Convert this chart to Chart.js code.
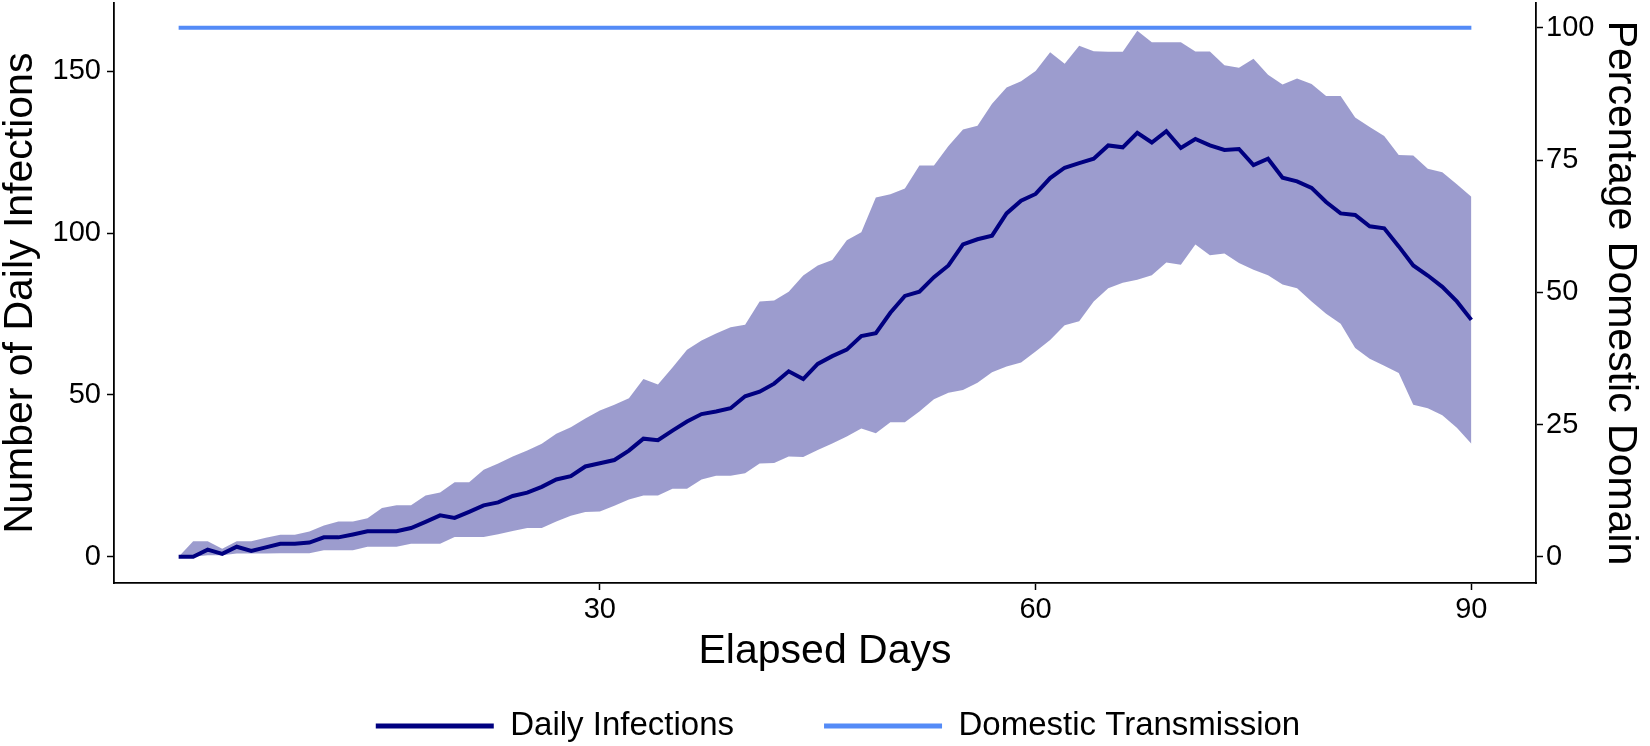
<!DOCTYPE html>
<html>
<head>
<meta charset="utf-8">
<script src="https://cdn.jsdelivr.net/npm/chart.js@4/dist/chart.umd.min.js"></script>
<style>
  html, body { margin: 0; padding: 0; background: #fff; }
</style>
</head>
<body>
<canvas id="infectionsChart" width="1650" height="746"></canvas>
<script>
// elapsed days of the simulation
var days = [1, 2, 3, 4, 5, 6, 7, 8, 9, 10, 11, 12, 13, 14, 15, 16, 17, 18, 19, 20,
    21, 22, 23, 24, 25, 26, 27, 28, 29, 30, 31, 32, 33, 34, 35, 36, 37, 38, 39, 40,
    41, 42, 43, 44, 45, 46, 47, 48, 49, 50, 51, 52, 53, 54, 55, 56, 57, 58, 59, 60,
    61, 62, 63, 64, 65, 66, 67, 68, 69, 70, 71, 72, 73, 74, 75, 76, 77, 78, 79, 80,
    81, 82, 83, 84, 85, 86, 87, 88, 89, 90];

// mean daily infections
var dailyInfections = [0, 0, 2.2, 0.9, 3.1, 1.8, 2.9, 4.0, 4.0, 4.4,
    6.0, 6.0, 6.9, 7.9, 7.9, 7.9, 8.9, 10.8, 12.8, 12.0,
    13.9, 15.9, 16.8, 18.8, 19.8, 21.6, 23.9, 24.9, 27.9, 28.9,
    29.9, 32.8, 36.5, 36.0, 39.0, 41.8, 44.1, 44.9, 45.9, 49.6,
    51.0, 53.5, 57.3, 54.9, 59.6, 62.0, 64.0, 68.2, 69.1, 75.4,
    80.6, 81.9, 86.4, 90.0, 96.5, 98.1, 99.2, 106.1, 110.0, 112.1,
    117.0, 120.2, 121.6, 123.0, 127.1, 126.5, 131.0, 128.0, 131.5, 126.3,
    129.1, 127.1, 125.7, 126.0, 121.0, 123.0, 117.1, 116.0, 114.0, 109.6,
    106.1, 105.6, 102.1, 101.5, 95.9, 90.0, 86.9, 83.4, 78.9, 73.2];

// ribbon bounds
var upperBound = [0, 4.8, 4.8, 2.5, 4.8, 4.8, 5.9, 6.8, 6.8, 7.8,
    9.7, 10.9, 10.9, 11.9, 15.1, 15.9, 15.9, 18.9, 19.9, 23.0,
    23.0, 26.9, 28.8, 31.0, 32.8, 34.9, 38.0, 40.0, 42.7, 45.2,
    47.0, 49.0, 54.9, 53.2, 58.5, 64.0, 66.8, 69.0, 70.9, 71.7,
    78.9, 79.2, 81.9, 86.9, 90.0, 91.7, 97.8, 100.3, 111.0, 112.0,
    113.8, 120.9, 120.9, 126.9, 132.0, 133.2, 140.0, 145.0, 146.9, 150.1,
    155.9, 152.3, 157.9, 156.2, 156.0, 156.0, 162.5, 159.0, 159.0, 159.0,
    156.1, 156.1, 151.9, 151.1, 153.9, 148.9, 145.9, 147.8, 146.1, 142.4,
    142.4, 135.7, 132.8, 130.0, 124.1, 124.0, 119.9, 118.8, 115.1, 111.2];

var lowerBound = [0, 0, 0.5, 0.5, 1.0, 1.0, 1.0, 1.1, 1.1, 1.1,
    2.0, 2.0, 2.0, 3.1, 3.1, 3.1, 4.0, 4.0, 4.0, 6.1,
    6.1, 6.1, 7.0, 8.0, 8.9, 8.9, 10.9, 12.7, 13.8, 14.0,
    15.8, 17.7, 18.9, 18.9, 21.0, 21.0, 23.9, 25.0, 25.0, 25.8,
    28.8, 29.0, 31.0, 30.8, 33.0, 35.0, 37.2, 39.6, 38.2, 41.6,
    41.6, 44.9, 48.7, 50.7, 51.5, 53.8, 57.0, 58.8, 60.0, 63.4,
    67.0, 71.5, 72.8, 78.9, 83.0, 84.7, 85.6, 87.0, 90.9, 90.2,
    96.5, 93.2, 93.7, 90.8, 88.7, 87.0, 84.1, 83.0, 78.9, 75.1,
    72.0, 64.5, 61.2, 59.0, 56.8, 47.0, 45.9, 43.7, 39.9, 34.9];

// percentage domestic domain (right axis)
var domesticTransmission = [100, 100, 100, 100, 100, 100, 100, 100, 100, 100,
    100, 100, 100, 100, 100, 100, 100, 100, 100, 100,
    100, 100, 100, 100, 100, 100, 100, 100, 100, 100,
    100, 100, 100, 100, 100, 100, 100, 100, 100, 100,
    100, 100, 100, 100, 100, 100, 100, 100, 100, 100,
    100, 100, 100, 100, 100, 100, 100, 100, 100, 100,
    100, 100, 100, 100, 100, 100, 100, 100, 100, 100,
    100, 100, 100, 100, 100, 100, 100, 100, 100, 100,
    100, 100, 100, 100, 100, 100, 100, 100, 100, 100];

var xTicks = [30, 60, 90];
var leftTicks = [0, 50, 100, 150];
var rightTicks = [0, 25, 50, 75, 100];

function toPoints(values) {
    return values.map(function (v, i) { return {x: days[i], y: v}; });
}
function fixTicks(list) {
    return function (scale) {
        scale.ticks = list.map(function (v) { return {value: v}; });
    };
}

var fontFamily = '"Liberation Sans", Arial, Helvetica, sans-serif';
var tickFont = {family: fontFamily, size: 29};
var titleFont = {family: fontFamily, size: 41};

var ctx = document.getElementById("infectionsChart");

var meanData = {
    label: "Daily Infections",
    data: toPoints(dailyInfections),
    borderColor: '#000080',
    borderWidth: 4,
    pointRadius: 0,
    fill: false,
    yAxisID: 'y'
};
var domesticData = {
    label: "Domestic Transmission",
    data: toPoints(domesticTransmission),
    borderColor: '#548BF7',
    borderWidth: 4,
    pointRadius: 0,
    fill: false,
    yAxisID: 'y2'
};
var lowerData = {
    label: "lower",
    data: toPoints(lowerBound),
    borderWidth: 0,
    pointRadius: 0,
    fill: false,
    yAxisID: 'y'
};
var upperData = {
    label: "upper",
    data: toPoints(upperBound),
    borderWidth: 0,
    pointRadius: 0,
    backgroundColor: 'rgba(0, 0, 128, 0.39)',
    fill: '-1',
    yAxisID: 'y'
};

var chart = new Chart(ctx, {
    type: 'line',
    data: {datasets: [meanData, domesticData, lowerData, upperData]},
    options: {
        responsive: false,
        animation: false,
        layout: {padding: {top: 3, bottom: -6.5, left: 26, right: 0}},
        plugins: {
            tooltip: {enabled: false},
            legend: {
                display: true,
                position: 'bottom',
                labels: {
                    boxWidth: 118,
                    boxHeight: 5,
                    padding: 90,
                    color: '#000',
                    font: {family: fontFamily, size: 33},
                    generateLabels: function (c) {
                        return c.data.datasets.slice(0, 2).map(function (ds, i) {
                            return {
                                text: ds.label,
                                fillStyle: ds.borderColor,
                                strokeStyle: ds.borderColor,
                                lineWidth: 0,
                                hidden: false,
                                datasetIndex: i
                            };
                        });
                    }
                }
            }
        },
        scales: {
            x: {
                type: 'linear',
                min: -3.45,
                max: 94.45,
                afterBuildTicks: fixTicks(xTicks),
                afterFit: function (s) { s.height = 36.5; s.paddingLeft = 0; s.paddingRight = 0; },
                grid: {drawOnChartArea: false, tickLength: 7, tickWidth: 1.5, color: '#000'},
                border: {display: true, color: '#000', width: 1.8},
                ticks: {font: tickFont, color: '#000', padding: 3, maxRotation: 0},
                title: {display: true, text: 'Elapsed Days', color: '#000', font: titleFont,
                    padding: {top: 0, bottom: -57}}
            },
            y: {
                type: 'linear',
                position: 'left',
                min: -8.1,
                max: 171.1,
                afterBuildTicks: fixTicks(leftTicks),
                afterFit: function (s) { s.width = 88; s.paddingTop = 0; s.paddingBottom = 0; },
                grid: {drawOnChartArea: false, tickLength: 7, tickWidth: 1.5, color: '#000'},
                border: {display: true, color: '#000', width: 1.8},
                ticks: {font: tickFont, color: '#000', padding: 6},
                title: {display: true, text: 'Number of Daily Infections', color: '#000', font: titleFont,
                    padding: {top: -30, bottom: 0}}
            },
            y2: {
                type: 'linear',
                position: 'right',
                min: -4.96,
                max: 104.69,
                afterBuildTicks: fixTicks(rightTicks),
                afterFit: function (s) { s.width = 114; s.paddingTop = 0; s.paddingBottom = 0; },
                grid: {drawOnChartArea: false, tickLength: 7, tickWidth: 1.5, color: '#000'},
                border: {display: true, color: '#000', width: 1.8},
                ticks: {font: tickFont, color: '#000', padding: 3},
                title: {display: true, text: 'Percentage Domestic Domain', color: '#000', font: titleFont,
                    padding: {top: 4.7, bottom: 0}}
            }
        }
    }
});
</script>
</body>
</html>
